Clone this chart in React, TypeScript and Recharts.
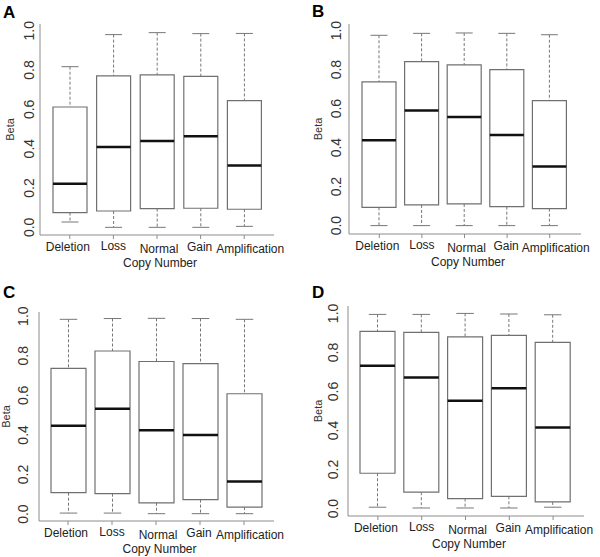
import React from 'react';
import { ComposedChart, Bar, XAxis, YAxis } from 'recharts';

const categories = ['Deletion', 'Loss', 'Normal', 'Gain', 'Amplification'];
const yTicks = [0, 0.2, 0.4, 0.6, 0.8, 1.0];

// A
const minA = [0.027, 0.0, 0.0, 0.0, 0.005];
const q1A = [0.075, 0.083, 0.095, 0.097, 0.092];
const medA = [0.222, 0.408, 0.439, 0.463, 0.314];
const q3A = [0.612, 0.77, 0.775, 0.768, 0.644];
const maxA = [0.817, 0.98, 0.99, 0.985, 0.986];

// B
const minB = [0.0, 0.0, 0.0, 0.0, 0.0];
const q1B = [0.094, 0.106, 0.111, 0.097, 0.087];
const medB = [0.438, 0.59, 0.557, 0.465, 0.303];
const q3B = [0.737, 0.841, 0.824, 0.8, 0.641];
const maxB = [0.976, 0.986, 0.988, 0.986, 0.979];

// C
const minC = [0.005, 0.005, 0.002, 0.002, 0.002];
const q1C = [0.108, 0.103, 0.057, 0.073, 0.035];
const medC = [0.446, 0.532, 0.424, 0.4, 0.164];
const q3C = [0.736, 0.824, 0.771, 0.76, 0.608];
const maxC = [0.984, 0.988, 0.989, 0.988, 0.984];

// D
const minD = [0.007, 0.003, 0.003, 0.003, 0.007];
const q1D = [0.181, 0.084, 0.051, 0.063, 0.034];
const medD = [0.732, 0.672, 0.553, 0.616, 0.416];
const q3D = [0.908, 0.903, 0.88, 0.887, 0.852];
const maxD = [0.995, 0.995, 1.0, 0.997, 0.993];

// small nudges of the category labels, as in the original figure
const labelShiftX = [-2, 0, 2, -1, 6];
const labelShiftY = [0, -1, 2, 0, 2];

const FONT = '"Liberation Sans", Arial, sans-serif';
const FRAME = '#8c8c8c';
const BOX = '#707070';
const WHISKER = '#777';

const buildRows = (mins: number[], q1s: number[], meds: number[], q3s: number[], maxs: number[]) =>
  categories.map((name, i) => ({
    name,
    base: mins[i],
    lowWhisker: q1s[i] - mins[i],
    lowBox: meds[i] - q1s[i],
    highBox: q3s[i] - meds[i],
    highWhisker: maxs[i] - q3s[i],
  }));

const LowWhisker = (props: any) => {
  const { x, y, width, height } = props;
  const cx = x + width / 2;
  const cap = width / 4;
  return (
    <g>
      <line x1={cx} x2={cx} y1={y} y2={y + height} stroke={WHISKER} strokeDasharray="3 2" />
      <line x1={cx - cap} x2={cx + cap} y1={y + height} y2={y + height} stroke={WHISKER} />
    </g>
  );
};

const HighWhisker = (props: any) => {
  const { x, y, width, height } = props;
  const cx = x + width / 2;
  const cap = width / 4;
  return (
    <g>
      <line x1={cx} x2={cx} y1={y} y2={y + height} stroke={WHISKER} strokeDasharray="3 2" />
      <line x1={cx - cap} x2={cx + cap} y1={y} y2={y} stroke={WHISKER} />
    </g>
  );
};

const LowBox = (props: any) => {
  const { x, y, width, height } = props;
  const b = y + height;
  return (
    <path d={`M${x},${y} L${x},${b} L${x + width},${b} L${x + width},${y}`} fill="none" stroke={BOX} strokeWidth={1.2} />
  );
};

const HighBox = (props: any) => {
  const { x, y, width, height } = props;
  const b = y + height;
  return (
    <g>
      <path d={`M${x},${b} L${x},${y} L${x + width},${y} L${x + width},${b}`} fill="none" stroke={BOX} strokeWidth={1.2} />
      <line x1={x} x2={x + width} y1={b} y2={b} stroke="#111" strokeWidth={2.5} />
    </g>
  );
};

const Panel = ({ rows, left, top, width, height, margin, domain, barSize, pad, tickGap, betaGap }: any) => {
  const YTick = (p: any) => {
    const tx = p.x - tickGap;
    return (
      <text x={tx} y={p.y} transform={`rotate(-90 ${tx} ${p.y})`} textAnchor="middle" dominantBaseline="central"
        fontSize={14} fill="#333" fontFamily={FONT}>
        {Number(p.payload.value).toFixed(1)}
      </text>
    );
  };
  const XTick = (p: any) => {
    const i = p.index ?? categories.indexOf(p.payload.value);
    return (
      <text x={p.x + (labelShiftX[i] || 0)} y={p.y + 8 + (labelShiftY[i] || 0)} textAnchor="middle"
        dominantBaseline="central" fontSize={12} fill="#222" fontFamily={FONT}>
        {p.payload.value}
      </text>
    );
  };
  const BetaLabel = (p: any) => {
    const vb = p.viewBox;
    const lx = vb.x + vb.width - betaGap;
    const ly = vb.y + vb.height / 2;
    return (
      <text x={lx} y={ly} transform={`rotate(-90 ${lx} ${ly})`} textAnchor="middle" dominantBaseline="central"
        fontSize={11} fill="#333" fontFamily={FONT}>
        Beta
      </text>
    );
  };
  const CopyLabel = (p: any) => {
    const vb = p.viewBox;
    return (
      <text x={vb.x + vb.width / 2 + 3} y={vb.y + 28} textAnchor="middle" dominantBaseline="central"
        fontSize={12} fill="#222" fontFamily={FONT}>
        Copy Number
      </text>
    );
  };
  return (
    <div style={{ position: 'absolute', left, top }}>
      <ComposedChart width={width} height={height} data={rows} margin={margin}>
        <XAxis dataKey="name" interval={0} padding={pad} height={32} stroke={FRAME}
          axisLine={{ stroke: FRAME }} tickLine={{ stroke: FRAME }} tickSize={4} tickMargin={0}
          tick={<XTick />} label={<CopyLabel />} />
        <XAxis xAxisId="t" dataKey="name" orientation="top" height={0} tick={false} tickLine={false}
          axisLine={{ stroke: FRAME }} padding={pad} />
        <YAxis type="number" domain={domain} ticks={yTicks} width={36} axisLine={{ stroke: FRAME }}
          tickLine={false} tickSize={0} tickMargin={0} tick={<YTick />} label={<BetaLabel />} allowDataOverflow />
        <YAxis yAxisId="r" orientation="right" type="number" domain={domain} width={0} tick={false}
          tickLine={false} axisLine={{ stroke: FRAME }} allowDataOverflow />
        <Bar dataKey="base" stackId="s" barSize={barSize} fill="none" isAnimationActive={false} shape={() => <g />} />
        <Bar dataKey="lowWhisker" stackId="s" barSize={barSize} isAnimationActive={false} shape={<LowWhisker />} />
        <Bar dataKey="lowBox" stackId="s" barSize={barSize} isAnimationActive={false} shape={<LowBox />} />
        <Bar dataKey="highBox" stackId="s" barSize={barSize} isAnimationActive={false} shape={<HighBox />} />
        <Bar dataKey="highWhisker" stackId="s" barSize={barSize} isAnimationActive={false} shape={<HighWhisker />} />
      </ComposedChart>
    </div>
  );
};

const App = () => {
  const letterStyle = { fontFamily: FONT, fontWeight: 700, fontSize: 17, fill: '#000' };
  return (
    <div style={{ position: 'absolute', left: 0, top: 0, width: 600, height: 557, background: '#fff', fontFamily: FONT }}>
      <Panel rows={buildRows(minA, q1A, medA, q3A, maxA)} left={0} top={0} width={300} height={280}
        margin={{ top: 24, right: 26, bottom: 13, left: 4 }} domain={[-0.039, 1.034]} barSize={34}
        pad={{ left: 8, right: 8 }} tickGap={11} betaGap={30} />
      <Panel rows={buildRows(minB, q1B, medB, q3B, maxB)} left={300} top={0} width={300} height={280}
        margin={{ top: 24, right: 19, bottom: 14, left: 13 }} domain={[-0.043, 1.034]} barSize={34}
        pad={{ left: 9, right: 10 }} tickGap={13} betaGap={31} />
      <Panel rows={buildRows(minC, q1C, medC, q3C, maxC)} left={0} top={280} width={300} height={277}
        margin={{ top: 32, right: 26, bottom: 4, left: 3 }} domain={[-0.035, 1.021]} barSize={35}
        pad={{ left: 7, right: 8 }} tickGap={16} betaGap={33} />
      <Panel rows={buildRows(minD, q1D, medD, q3D, maxD)} left={300} top={280} width={300} height={277}
        margin={{ top: 26, right: 16, bottom: 9, left: 12 }} domain={[-0.038, 1.038]} barSize={35}
        pad={{ left: 8, right: 9 }} tickGap={15} betaGap={30} />
      <svg width={600} height={557} style={{ position: 'absolute', left: 0, top: 0, pointerEvents: 'none' }}>
        <text x={3} y={18} style={letterStyle}>A</text>
        <text x={312} y={17} style={letterStyle}>B</text>
        <text x={3} y={298} style={letterStyle}>C</text>
        <text x={312} y={298} style={letterStyle}>D</text>
      </svg>
    </div>
  );
};

export default App;
